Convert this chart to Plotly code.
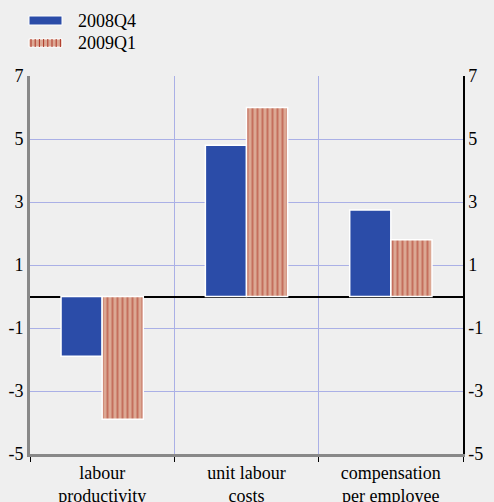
import plotly.graph_objects as go

categories = ["labour<br>productivity", "unit labour<br>costs", "compensation<br>per employee"]
series_names = ["2008Q4", "2009Q1"]
q4_2008 = [-1.9, 4.8, 2.75]
q1_2009 = [-3.9, 6.0, 1.8]
y_ticks = [-5, -3, -1, 1, 3, 5, 7]
y_tick_labels = ["-5", "-3", "-1", "1", "3", "5", "7"]

BG = "#efefef"
BLUE = "#2b4ca8"
SALMON = "#dca894"
STRIPE = "#ad3526"
FAMILY = "'Times New Roman', 'Liberation Serif', 'DejaVu Serif', serif"
FS = 18
font = dict(family=FAMILY, size=FS, color="#000000")

W, H = 494, 502
L, R, T, B = 30, 31, 76, 48

fig = go.Figure()
fig.add_trace(go.Bar(
    x=categories, y=q4_2008, name=series_names[0],
    marker=dict(color=BLUE, line=dict(color="white", width=1.5)),
    showlegend=False,
))
fig.add_trace(go.Bar(
    x=categories, y=q1_2009, name=series_names[1],
    marker=dict(color=SALMON, line=dict(color="white", width=1.5),
                pattern=dict(shape="|", fgcolor=STRIPE, bgcolor=SALMON,
                             size=5, solidity=0.4)),
    showlegend=False,
))
fig.add_trace(go.Scatter(x=[categories[0]], y=[0], yaxis="y2", mode="markers",
                         marker=dict(opacity=0), showlegend=False, hoverinfo="skip"))

def px_x(p):
    return (p - L) / (W - L - R)

def px_y(p):
    return (H - B - p) / (H - T - B)

legend_items = [(series_names[0], 16, 25, 21), (series_names[1], 39, 47, 43)]
for i, (name, y0, y1, yc) in enumerate(legend_items):
    if i == 0:
        fig.add_shape(type="rect", xref="paper", yref="paper",
                      x0=px_x(29), x1=px_x(62), y0=px_y(y1), y1=px_y(y0),
                      fillcolor=BLUE, line=dict(color="white", width=1))
    else:
        fig.add_shape(type="rect", xref="paper", yref="paper",
                      x0=px_x(29), x1=px_x(62), y0=px_y(y1), y1=px_y(y0),
                      fillcolor=SALMON, line=dict(color="white", width=1))
        for k in range(8):
            xs = 31 + k * 4.2
            fig.add_shape(type="line", xref="paper", yref="paper",
                          x0=px_x(xs), x1=px_x(xs), y0=px_y(y1), y1=px_y(y0),
                          line=dict(color=STRIPE, width=1))
    fig.add_annotation(xref="paper", yref="paper", x=px_x(76), y=px_y(yc),
                       text=name, showarrow=False, xanchor="left", yanchor="middle",
                       font=dict(size=FS, family=FAMILY))

fig.update_layout(
    width=W, height=H,
    paper_bgcolor=BG, plot_bgcolor=BG,
    font=font,
    margin=dict(l=L, r=R, t=T, b=B),
    barmode="group", bargap=0.43, bargroupgap=0.0,
    showlegend=False,
    xaxis=dict(type="category", tickson="boundaries", showgrid=True,
               gridcolor="#aab0e6", gridwidth=1,
               showline=True, linecolor="#888888", linewidth=3,
               ticks="outside", ticklen=5, tickcolor="#000000",
               tickfont=dict(size=FS, family=FAMILY), range=[-0.5, 2.5], automargin=False),
    yaxis=dict(range=[-5, 7], tickvals=y_ticks, ticktext=y_tick_labels, showgrid=True,
               gridcolor="#aab0e6", gridwidth=1,
               showline=True, linecolor="#888888", linewidth=3,
               zeroline=True, zerolinecolor="#000000", zerolinewidth=2,
               ticks="", tickfont=dict(size=FS, family=FAMILY), automargin=False),
    yaxis2=dict(range=[-5, 7], tickvals=y_ticks, ticktext=y_tick_labels,
                overlaying="y", side="right",
                showgrid=False, zeroline=False, showline=True,
                linecolor="#000000", linewidth=1.5, ticks="",
                tickfont=dict(size=FS, family=FAMILY), automargin=False),
)

fig.write_html("out.html", config={"displayModeBar": False},
               post_script="document.body.style.margin='0';document.body.style.background='#efefef';")
